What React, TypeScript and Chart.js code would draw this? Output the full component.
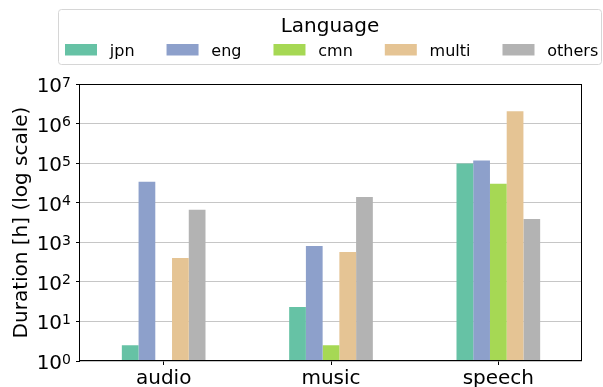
import React, { useEffect, useRef } from "react";
import { Chart, registerables } from "chart.js";

Chart.register(...registerables);

const categories = ["audio", "music", "speech"];
const seriesNames = ["jpn", "eng", "cmn", "multi", "others"];
const jpn = [2.5, 23, 98000];
const eng = [34000, 800, 117000];
const cmn = [null, 2.5, 30000];
const multi = [400, 570, 2050000];
const others = [6600, 14000, 3900];
const seriesColors = ["#66c2a5", "#8da0cb", "#a6d854", "#e5c494", "#b3b3b3"];
const yTickValues = [1, 10, 100, 1e3, 1e4, 1e5, 1e6, 1e7];
const legendTitle = "Language";
const yAxisTitle = "Duration [h] (log scale)";

const FONT = "'DejaVu Sans', sans-serif";

const framePlugin = {
  id: "frameAndLegend",
  afterDraw(chart: any) {
    const ctx = chart.ctx;
    const ca = chart.chartArea;
    ctx.save();
    // axes frame
    ctx.strokeStyle = "#000";
    ctx.lineWidth = 1;
    ctx.strokeRect(Math.round(ca.left) - 0.5, Math.round(ca.top) + 0.5,
      Math.round(ca.right) - Math.round(ca.left), Math.round(ca.bottom) - Math.round(ca.top) - 1);

    // y tick labels: 10 with a superscript exponent
    const ys = chart.scales.y;
    ctx.fillStyle = "#000";
    ctx.textBaseline = "alphabetic";
    yTickValues.forEach((v) => {
      const py = ys.getPixelForValue(v);
      const exp = String(Math.round(Math.log10(v)));
      const right = ca.left - 9;
      ctx.font = `14px ${FONT}`;
      const ew = ctx.measureText(exp).width;
      ctx.textAlign = "right";
      ctx.fillText(exp, right, py + 2.5);
      ctx.font = `20px ${FONT}`;
      ctx.fillText("10", right - ew, py + 8);
    });

    // legend box
    const bx = 58.5, by = 9.5, bw = 543, bh = 55;
    ctx.beginPath();
    (ctx as any).roundRect(bx, by, bw, bh, 3);
    ctx.fillStyle = "rgba(255,255,255,0.8)";
    ctx.fill();
    ctx.strokeStyle = "#d6d6d6";
    ctx.stroke();

    // legend title
    ctx.fillStyle = "#000";
    ctx.font = `20px ${FONT}`;
    ctx.textAlign = "center";
    ctx.textBaseline = "alphabetic";
    ctx.fillText(legendTitle, bx + bw / 2, 31.5);

    // legend items
    const fs = 16;
    ctx.font = `${fs}px ${FONT}`;
    ctx.textAlign = "left";
    let x = 65;
    chart.data.datasets.forEach((ds: any) => {
      ctx.fillStyle = ds.backgroundColor;
      ctx.fillRect(x, 44, 2 * fs, 11.5);
      const tx = x + 2.8 * fs;
      ctx.fillStyle = "#000";
      ctx.fillText(ds.label, tx, 55.5);
      x = tx + ctx.measureText(ds.label).width + 2 * fs;
    });
    ctx.restore();
  },
};

export default function App() {
  const ref = useRef<HTMLCanvasElement | null>(null);

  useEffect(() => {
    if (!ref.current) return;
    Chart.defaults.font.family = FONT;
    const seriesData = [jpn, eng, cmn, multi, others];
    const chart = new Chart(ref.current, {
      type: "bar",
      data: {
        labels: categories,
        datasets: seriesNames.map((name, i) => ({
          label: name,
          data: seriesData[i] as any,
          backgroundColor: seriesColors[i],
          borderWidth: 0,
          categoryPercentage: 0.5,
          barPercentage: 1,
        })),
      },
      options: {
        responsive: false,
        animation: false,
        devicePixelRatio: 1,
        layout: { padding: { top: 84, right: 21, left: 0, bottom: 0 } },
        plugins: { legend: { display: false }, tooltip: { enabled: false } },
        scales: {
          x: {
            type: "category",
            grid: {
              display: true,
              drawOnChartArea: false,
              drawTicks: true,
              tickLength: 4,
              tickColor: "#000",
              offset: false,
            },
            border: { display: false },
            ticks: { color: "#000", font: { size: 20 }, padding: 2, maxRotation: 0 },
            afterFit: (s: any) => { s.height = 26; },
          },
          y: {
            type: "logarithmic",
            min: 1,
            max: 1e7,
            z: 1,
            grid: {
              color: "rgba(160,160,160,0.6)",
              lineWidth: 1,
              drawTicks: true,
              tickLength: 4,
              tickColor: "#000",
            },
            border: { display: false },
            ticks: { display: false },
            afterBuildTicks: (s: any) => {
              s.ticks = yTickValues.map((v) => ({ value: v }));
            },
            afterFit: (s: any) => { s.width = 80; },
            title: {
              display: true,
              text: yAxisTitle,
              color: "#000",
              font: { size: 20 },
              padding: { top: 10, bottom: 0 },
            },
          },
        },
      } as any,
      plugins: [framePlugin],
    });
    return () => chart.destroy();
  }, []);

  return (
    <div style={{ position: "fixed", left: 0, top: 0, width: 603, height: 387, background: "#fff" }}>
      <canvas ref={ref} width={603} height={387} style={{ display: "block", width: 603, height: 387 }} />
    </div>
  );
}
